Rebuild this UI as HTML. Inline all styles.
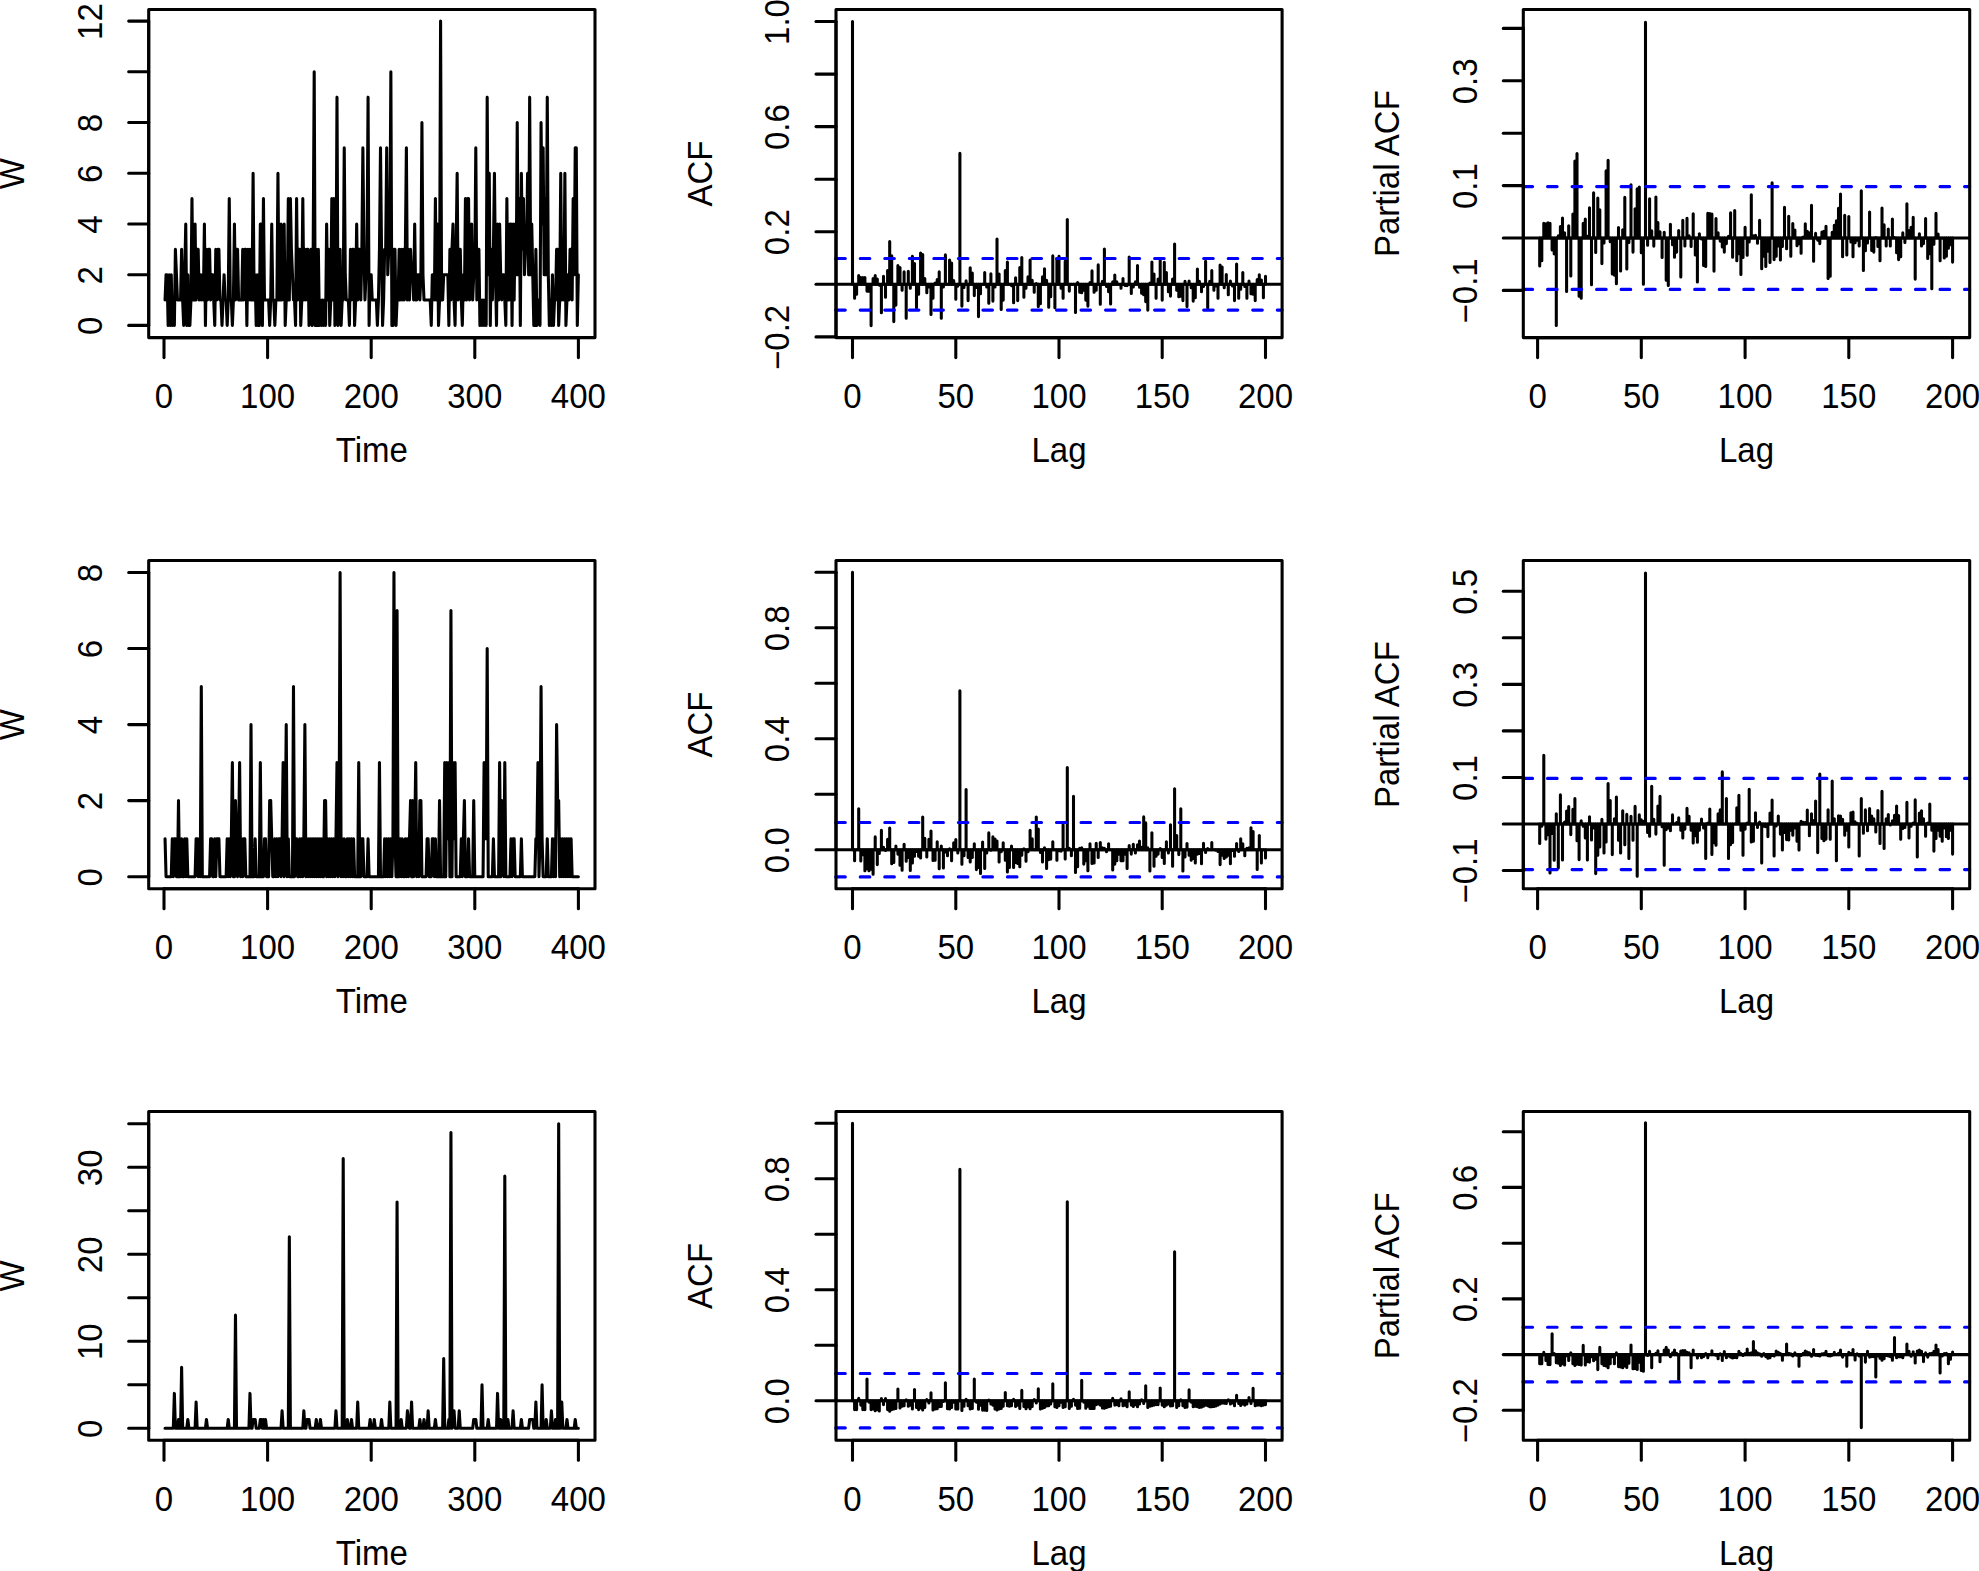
<!DOCTYPE html><html><head><meta charset="utf-8"><title>ACF plots</title><style>html,body{margin:0;padding:0;background:#fff}svg{display:block}</style></head><body><svg width="1979" height="1571" viewBox="0 0 1979 1571" font-family="&quot;Liberation Sans&quot;, sans-serif" font-size="33.0" fill="#000">
<rect width="1979" height="1571" fill="#fff"/>
<g stroke="#000" stroke-width="3.07" fill="none" stroke-linecap="round" stroke-linejoin="round">
<polyline points="165.04,300.04 166.07,274.68 167.11,274.68 168.14,325.40 169.18,274.68 170.22,325.40 171.25,274.68 172.29,325.40 173.32,300.04 174.36,325.40 175.39,249.32 176.43,274.68 177.47,300.04 178.50,300.04 179.54,300.04 180.57,300.04 181.61,249.32 182.65,300.04 183.68,325.40 184.72,274.68 185.75,223.96 186.79,325.40 187.83,274.68 188.86,325.40 189.90,325.40 190.93,300.04 191.97,198.60 193.00,300.04 194.04,300.04 195.08,223.96 196.11,300.04 197.15,249.32 198.18,249.32 199.22,300.04 200.26,274.68 201.29,300.04 202.33,274.68 203.36,300.04 204.40,223.96 205.44,325.40 206.47,249.32 207.51,300.04 208.54,249.32 209.58,249.32 210.61,300.04 211.65,274.68 212.69,274.68 213.72,300.04 214.76,325.40 215.79,249.32 216.83,300.04 217.87,249.32 218.90,249.32 219.94,300.04 220.97,300.04 222.01,325.40 223.04,300.04 224.08,274.68 225.12,300.04 226.15,300.04 227.19,325.40 228.22,300.04 229.26,198.60 230.30,300.04 231.33,300.04 232.37,325.40 233.40,300.04 234.44,223.96 235.48,300.04 236.51,249.32 237.55,249.32 238.58,300.04 239.62,300.04 240.65,300.04 241.69,300.04 242.73,249.32 243.76,300.04 244.80,249.32 245.83,249.32 246.87,325.40 247.91,249.32 248.94,300.04 249.98,249.32 251.01,300.04 252.05,300.04 253.09,173.24 254.12,300.04 255.16,274.68 256.19,325.40 257.23,274.68 258.26,325.40 259.30,325.40 260.34,223.96 261.37,223.96 262.41,325.40 263.44,198.60 264.48,300.04 265.52,300.04 266.55,300.04 267.59,300.04 268.62,300.04 269.66,325.40 270.70,300.04 271.73,223.96 272.77,300.04 273.80,300.04 274.84,325.40 275.87,300.04 276.91,300.04 277.95,173.24 278.98,300.04 280.02,300.04 281.05,223.96 282.09,300.04 283.13,274.68 284.16,223.96 285.20,325.40 286.23,300.04 287.27,300.04 288.31,198.60 289.34,300.04 290.38,198.60 291.41,249.32 292.45,274.68 293.48,300.04 294.52,300.04 295.56,325.40 296.59,198.60 297.63,300.04 298.66,249.32 299.70,249.32 300.74,325.40 301.77,300.04 302.81,198.60 303.84,300.04 304.88,249.32 305.91,300.04 306.95,249.32 307.99,249.32 309.02,325.40 310.06,274.68 311.09,249.32 312.13,325.40 313.17,249.32 314.20,71.80 315.24,325.40 316.27,249.32 317.31,325.40 318.35,249.32 319.38,325.40 320.42,300.04 321.45,325.40 322.49,300.04 323.52,325.40 324.56,300.04 325.60,325.40 326.63,223.96 327.67,300.04 328.70,249.32 329.74,325.40 330.78,300.04 331.81,198.60 332.85,300.04 333.88,198.60 334.92,325.40 335.96,300.04 336.99,97.16 338.03,325.40 339.06,300.04 340.10,249.32 341.13,325.40 342.17,300.04 343.21,300.04 344.24,147.88 345.28,274.68 346.31,300.04 347.35,300.04 348.39,300.04 349.42,325.40 350.46,249.32 351.49,300.04 352.53,249.32 353.57,249.32 354.60,325.40 355.64,300.04 356.67,223.96 357.71,300.04 358.74,249.32 359.78,249.32 360.82,300.04 361.85,249.32 362.89,147.88 363.92,249.32 364.96,300.04 366.00,274.68 367.03,249.32 368.07,97.16 369.10,325.40 370.14,274.68 371.18,274.68 372.21,300.04 373.25,300.04 374.28,300.04 375.32,300.04 376.35,300.04 377.39,325.40 378.43,300.04 379.46,249.32 380.50,147.88 381.53,249.32 382.57,325.40 383.61,300.04 384.64,249.32 385.68,249.32 386.71,147.88 387.75,274.68 388.78,249.32 389.82,249.32 390.86,71.80 391.89,325.40 392.93,325.40 393.96,249.32 395.00,249.32 396.04,325.40 397.07,300.04 398.11,300.04 399.14,249.32 400.18,300.04 401.22,249.32 402.25,300.04 403.29,249.32 404.32,300.04 405.36,249.32 406.39,147.88 407.43,300.04 408.47,249.32 409.50,300.04 410.54,249.32 411.57,274.68 412.61,274.68 413.65,300.04 414.68,223.96 415.72,300.04 416.75,300.04 417.79,274.68 418.83,274.68 419.86,300.04 420.90,274.68 421.93,122.52 422.97,274.68 424.00,300.04 425.04,300.04 426.08,300.04 427.11,300.04 428.15,300.04 429.18,300.04 430.22,300.04 431.26,325.40 432.29,274.68 433.33,274.68 434.36,300.04 435.40,198.60 436.44,300.04 437.47,223.96 438.51,325.40 439.54,300.04 440.58,21.08 441.61,300.04 442.65,300.04 443.69,274.68 444.72,274.68 445.76,274.68 446.79,274.68 447.83,274.68 448.87,325.40 449.90,249.32 450.94,300.04 451.97,249.32 453.01,223.96 454.05,300.04 455.08,325.40 456.12,249.32 457.15,173.24 458.19,300.04 459.22,249.32 460.26,249.32 461.30,300.04 462.33,325.40 463.37,274.68 464.40,300.04 465.44,198.60 466.48,300.04 467.51,198.60 468.55,198.60 469.58,300.04 470.62,274.68 471.65,223.96 472.69,300.04 473.73,274.68 474.76,274.68 475.80,147.88 476.83,300.04 477.87,249.32 478.91,249.32 479.94,325.40 480.98,300.04 482.01,325.40 483.05,300.04 484.09,325.40 485.12,300.04 486.16,325.40 487.19,97.16 488.23,274.68 489.26,173.24 490.30,325.40 491.34,249.32 492.37,300.04 493.41,249.32 494.44,173.24 495.48,274.68 496.52,325.40 497.55,223.96 498.59,300.04 499.62,223.96 500.66,274.68 501.70,300.04 502.73,274.68 503.77,274.68 504.80,300.04 505.84,325.40 506.87,198.60 507.91,300.04 508.95,300.04 509.98,223.96 511.02,223.96 512.05,325.40 513.09,223.96 514.13,300.04 515.16,223.96 516.20,274.68 517.23,122.52 518.27,274.68 519.31,198.60 520.34,325.40 521.38,173.24 522.41,249.32 523.45,198.60 524.48,274.68 525.52,249.32 526.56,249.32 527.59,173.24 528.63,274.68 529.66,97.16 530.70,274.68 531.74,223.96 532.77,274.68 533.81,325.40 534.84,325.40 535.88,249.32 536.91,325.40 537.95,300.04 538.99,300.04 540.02,325.40 541.06,122.52 542.09,223.96 543.13,147.88 544.17,274.68 545.20,198.60 546.24,274.68 547.27,97.16 548.31,274.68 549.35,325.40 550.38,300.04 551.42,325.40 552.45,274.68 553.49,325.40 554.52,300.04 555.56,300.04 556.60,249.32 557.63,249.32 558.67,325.40 559.70,300.04 560.74,173.24 561.78,300.04 562.81,274.68 563.85,300.04 564.88,173.24 565.92,325.40 566.96,300.04 567.99,274.68 569.03,300.04 570.06,249.32 571.10,249.32 572.13,300.04 573.17,198.60 574.21,274.68 575.24,147.88 576.28,147.88 577.31,325.40 578.35,274.68"/>
<rect x="148.7" y="9.5" width="446.3" height="328.1"/>
<line x1="164.0" y1="337.6" x2="578.4" y2="337.6" />
<line x1="164.0" y1="337.6" x2="164.0" y2="357.6" />
<line x1="267.6" y1="337.6" x2="267.6" y2="357.6" />
<line x1="371.2" y1="337.6" x2="371.2" y2="357.6" />
<line x1="474.8" y1="337.6" x2="474.8" y2="357.6" />
<line x1="578.4" y1="337.6" x2="578.4" y2="357.6" />
<line x1="148.7" y1="325.4" x2="148.7" y2="21.1" />
<line x1="128.7" y1="325.4" x2="148.7" y2="325.4" />
<line x1="128.7" y1="274.7" x2="148.7" y2="274.7" />
<line x1="128.7" y1="224.0" x2="148.7" y2="224.0" />
<line x1="128.7" y1="173.2" x2="148.7" y2="173.2" />
<line x1="128.7" y1="122.5" x2="148.7" y2="122.5" />
<line x1="128.7" y1="71.8" x2="148.7" y2="71.8" />
<line x1="128.7" y1="21.1" x2="148.7" y2="21.1" />
</g>
<text transform="translate(164.0,408.1) scale(1,1.045)" text-anchor="middle">0</text>
<text transform="translate(267.6,408.1) scale(1,1.045)" text-anchor="middle">100</text>
<text transform="translate(371.2,408.1) scale(1,1.045)" text-anchor="middle">200</text>
<text transform="translate(474.8,408.1) scale(1,1.045)" text-anchor="middle">300</text>
<text transform="translate(578.4,408.1) scale(1,1.045)" text-anchor="middle">400</text>
<text transform="translate(371.9,462.1) scale(1,1.045)" text-anchor="middle">Time</text>
<text transform="translate(101.9,325.9) rotate(-90) scale(1,1.045)" text-anchor="middle">0</text>
<text transform="translate(101.9,275.2) rotate(-90) scale(1,1.045)" text-anchor="middle">2</text>
<text transform="translate(101.9,224.5) rotate(-90) scale(1,1.045)" text-anchor="middle">4</text>
<text transform="translate(101.9,173.7) rotate(-90) scale(1,1.045)" text-anchor="middle">6</text>
<text transform="translate(101.9,123.0) rotate(-90) scale(1,1.045)" text-anchor="middle">8</text>
<text transform="translate(101.9,21.6) rotate(-90) scale(1,1.045)" text-anchor="middle">12</text>
<text transform="translate(24.2,173.6) rotate(-90) scale(1,1.045)" text-anchor="middle">W</text>
<g stroke="#000" stroke-width="3.07" fill="none" stroke-linecap="round" stroke-linejoin="round">
<path d="M852.5 284.3V21.5M854.6 284.3V298.2M856.6 284.3V294.3M858.7 284.3V275.6M860.8 284.3V277.5M862.8 284.3V277.5M864.9 284.3V277.5M867.0 284.3V291.1M869.0 284.3V291.1M871.1 284.3V325.6M873.1 284.3V278.5M875.2 284.3V275.6M877.3 284.3V279.0M879.3 284.3V285.1M881.4 284.3V312.7M883.5 284.3V276.4M885.5 284.3V297.2M887.6 284.3V270.6M889.7 284.3V241.5M891.7 284.3V255.7M893.8 284.3V321.6M895.9 284.3V305.1M897.9 284.3V265.6M900.0 284.3V267.5M902.1 284.3V290.3M904.1 284.3V271.9M906.2 284.3V318.2M908.3 284.3V271.4M910.3 284.3V288.2M912.4 284.3V256.2M914.5 284.3V263.5M916.5 284.3V307.7M918.6 284.3V294.3M920.6 284.3V253.0M922.7 284.3V254.6M924.8 284.3V278.5M926.8 284.3V292.7M928.9 284.3V286.9M931.0 284.3V314.5M933.0 284.3V298.2M935.1 284.3V283.0M937.2 284.3V279.6M939.2 284.3V271.9M941.3 284.3V318.2M943.4 284.3V286.9M945.4 284.3V254.9M947.5 284.3V284.3M949.6 284.3V260.1M951.6 284.3V263.0M953.7 284.3V280.6M955.8 284.3V299.3M957.8 284.3V286.1M959.9 284.3V153.2M961.9 284.3V306.1M964.0 284.3V287.5M966.1 284.3V280.9M968.1 284.3V300.6M970.2 284.3V267.7M972.3 284.3V273.0M974.3 284.3V295.6M976.4 284.3V287.5M978.5 284.3V316.6M980.5 284.3V293.8M982.6 284.3V284.3M984.7 284.3V272.5M986.7 284.3V286.9M988.8 284.3V303.2M990.9 284.3V273.8M992.9 284.3V301.1M995.0 284.3V286.9M997.0 284.3V239.1M999.1 284.3V274.1M1001.2 284.3V309.5M1003.2 284.3V300.1M1005.3 284.3V270.6M1007.4 284.3V262.0M1009.4 284.3V284.3M1011.5 284.3V285.6M1013.6 284.3V302.7M1015.6 284.3V277.7M1017.7 284.3V300.6M1019.8 284.3V267.5M1021.8 284.3V257.5M1023.9 284.3V297.2M1026.0 284.3V288.2M1028.0 284.3V276.9M1030.1 284.3V260.1M1032.2 284.3V280.4M1034.2 284.3V292.2M1036.3 284.3V283.5M1038.3 284.3V306.6M1040.4 284.3V303.7M1042.5 284.3V276.9M1044.5 284.3V268.8M1046.6 284.3V280.4M1048.7 284.3V307.2M1050.7 284.3V296.7M1052.8 284.3V255.9M1054.9 284.3V307.7M1056.9 284.3V259.6M1059.0 284.3V256.2M1061.1 284.3V288.2M1063.1 284.3V298.2M1065.2 284.3V261.2M1067.3 284.3V219.5M1069.3 284.3V291.1M1071.4 284.3V284.3M1073.5 284.3V284.3M1075.5 284.3V312.4M1077.6 284.3V282.5M1079.7 284.3V292.2M1081.7 284.3V292.7M1083.8 284.3V290.3M1085.8 284.3V300.1M1087.9 284.3V306.1M1090.0 284.3V282.5M1092.0 284.3V270.9M1094.1 284.3V292.2M1096.2 284.3V290.3M1098.2 284.3V264.9M1100.3 284.3V304.3M1102.4 284.3V281.4M1104.4 284.3V249.1M1106.5 284.3V286.4M1108.6 284.3V291.7M1110.6 284.3V304.0M1112.7 284.3V281.9M1114.8 284.3V275.1M1116.8 284.3V281.9M1118.9 284.3V284.3M1121.0 284.3V288.2M1123.0 284.3V278.5M1125.1 284.3V285.4M1127.1 284.3V285.6M1129.2 284.3V257.0M1131.3 284.3V293.5M1133.3 284.3V286.9M1135.4 284.3V281.9M1137.5 284.3V265.6M1139.5 284.3V287.2M1141.6 284.3V293.2M1143.7 284.3V294.8M1145.7 284.3V301.6M1147.8 284.3V310.1M1149.9 284.3V283.0M1151.9 284.3V262.0M1154.0 284.3V274.1M1156.1 284.3V298.2M1158.1 284.3V279.0M1160.2 284.3V260.6M1162.2 284.3V300.1M1164.3 284.3V262.2M1166.4 284.3V272.5M1168.4 284.3V291.7M1170.5 284.3V296.1M1172.6 284.3V279.0M1174.6 284.3V244.1M1176.7 284.3V290.3M1178.8 284.3V296.7M1180.8 284.3V296.1M1182.9 284.3V300.6M1185.0 284.3V281.4M1187.0 284.3V306.6M1189.1 284.3V281.1M1191.2 284.3V287.7M1193.2 284.3V301.1M1195.3 284.3V297.7M1197.4 284.3V269.1M1199.4 284.3V281.4M1201.5 284.3V291.7M1203.5 284.3V286.4M1205.6 284.3V261.2M1207.7 284.3V307.7M1209.7 284.3V281.4M1211.8 284.3V270.6M1213.9 284.3V290.3M1215.9 284.3V285.9M1218.0 284.3V298.2M1220.1 284.3V265.1M1222.1 284.3V267.0M1224.2 284.3V287.7M1226.3 284.3V274.6M1228.3 284.3V294.8M1230.4 284.3V281.1M1232.5 284.3V285.9M1234.5 284.3V300.6M1236.6 284.3V264.1M1238.7 284.3V298.2M1240.7 284.3V289.3M1242.8 284.3V272.5M1244.8 284.3V286.4M1246.9 284.3V298.2M1249.0 284.3V281.1M1251.0 284.3V293.8M1253.1 284.3V294.3M1255.2 284.3V300.6M1257.2 284.3V279.6M1259.3 284.3V274.8M1261.4 284.3V280.1M1263.4 284.3V297.7M1265.5 284.3V276.4"/>
<line x1="836.0" y1="284.3" x2="1282.1" y2="284.3" stroke-linecap="butt"/>
<line x1="835.7" y1="258.5" x2="1282.1" y2="258.5" stroke="#0000ff" stroke-dasharray="9.6 14.93" stroke-linecap="round"/>
<line x1="835.7" y1="310.1" x2="1282.1" y2="310.1" stroke="#0000ff" stroke-dasharray="9.6 14.93" stroke-linecap="round"/>
<rect x="836.0" y="9.5" width="446.1" height="328.1"/>
<line x1="852.5" y1="337.6" x2="1265.5" y2="337.6" />
<line x1="852.5" y1="337.6" x2="852.5" y2="357.6" />
<line x1="955.8" y1="337.6" x2="955.8" y2="357.6" />
<line x1="1059.0" y1="337.6" x2="1059.0" y2="357.6" />
<line x1="1162.2" y1="337.6" x2="1162.2" y2="357.6" />
<line x1="1265.5" y1="337.6" x2="1265.5" y2="357.6" />
<line x1="836.0" y1="336.9" x2="836.0" y2="21.5" />
<line x1="816.0" y1="336.9" x2="836.0" y2="336.9" />
<line x1="816.0" y1="284.3" x2="836.0" y2="284.3" />
<line x1="816.0" y1="231.7" x2="836.0" y2="231.7" />
<line x1="816.0" y1="179.2" x2="836.0" y2="179.2" />
<line x1="816.0" y1="126.6" x2="836.0" y2="126.6" />
<line x1="816.0" y1="74.1" x2="836.0" y2="74.1" />
<line x1="816.0" y1="21.5" x2="836.0" y2="21.5" />
</g>
<text transform="translate(852.5,408.1) scale(1,1.045)" text-anchor="middle">0</text>
<text transform="translate(955.8,408.1) scale(1,1.045)" text-anchor="middle">50</text>
<text transform="translate(1059.0,408.1) scale(1,1.045)" text-anchor="middle">100</text>
<text transform="translate(1162.2,408.1) scale(1,1.045)" text-anchor="middle">150</text>
<text transform="translate(1265.5,408.1) scale(1,1.045)" text-anchor="middle">200</text>
<text transform="translate(1059.0,462.1) scale(1,1.045)" text-anchor="middle">Lag</text>
<text transform="translate(789.2,337.4) rotate(-90) scale(1,1.045)" text-anchor="middle">−0.2</text>
<text transform="translate(789.2,232.2) rotate(-90) scale(1,1.045)" text-anchor="middle">0.2</text>
<text transform="translate(789.2,127.1) rotate(-90) scale(1,1.045)" text-anchor="middle">0.6</text>
<text transform="translate(789.2,22.0) rotate(-90) scale(1,1.045)" text-anchor="middle">1.0</text>
<text transform="translate(711.5,173.6) rotate(-90) scale(1,1.045)" text-anchor="middle">ACF</text>
<g stroke="#000" stroke-width="3.07" fill="none" stroke-linecap="round" stroke-linejoin="round">
<path d="M1539.7 238.0V265.9M1541.8 238.0V260.7M1543.8 238.0V223.2M1545.9 238.0V223.9M1548.0 238.0V222.8M1550.0 238.0V223.3M1552.1 238.0V249.9M1554.2 238.0V253.9M1556.3 238.0V325.5M1558.3 238.0V235.9M1560.4 238.0V226.6M1562.5 238.0V218.1M1564.6 238.0V232.8M1566.6 238.0V291.4M1568.7 238.0V225.8M1570.8 238.0V275.9M1572.9 238.0V214.0M1574.9 238.0V161.0M1577.0 238.0V153.6M1579.1 238.0V296.2M1581.2 238.0V298.3M1583.2 238.0V223.2M1585.3 238.0V219.1M1587.4 238.0V236.4M1589.5 238.0V207.7M1591.5 238.0V284.8M1593.6 238.0V192.8M1595.7 238.0V252.5M1597.8 238.0V198.0M1599.8 238.0V209.7M1601.9 238.0V263.6M1604.0 238.0V243.0M1606.1 238.0V170.9M1608.1 238.0V160.4M1610.2 238.0V241.7M1612.3 238.0V273.9M1614.4 238.0V275.1M1616.4 238.0V283.7M1618.5 238.0V227.5M1620.6 238.0V270.9M1622.7 238.0V229.7M1624.8 238.0V197.4M1626.8 238.0V269.0M1628.9 238.0V242.5M1631.0 238.0V184.8M1633.0 238.0V252.1M1635.1 238.0V208.8M1637.2 238.0V188.8M1639.3 238.0V187.1M1641.3 238.0V252.7M1643.4 238.0V284.3M1645.5 238.0V22.2M1647.6 238.0V245.3M1649.6 238.0V198.8M1651.7 238.0V230.8M1653.8 238.0V246.1M1655.9 238.0V197.1M1657.9 238.0V222.6M1660.0 238.0V231.7M1662.1 238.0V257.5M1664.2 238.0V232.3M1666.2 238.0V280.2M1668.3 238.0V285.4M1670.4 238.0V224.3M1672.5 238.0V244.7M1674.5 238.0V257.3M1676.6 238.0V252.1M1678.7 238.0V230.6M1680.8 238.0V277.0M1682.8 238.0V220.3M1684.9 238.0V245.9M1687.0 238.0V218.3M1689.1 238.0V235.9M1691.1 238.0V246.4M1693.2 238.0V213.7M1695.3 238.0V255.0M1697.4 238.0V282.0M1699.4 238.0V233.8M1701.5 238.0V239.0M1703.6 238.0V265.4M1705.7 238.0V266.5M1707.8 238.0V213.2M1709.8 238.0V213.6M1711.9 238.0V214.0M1714.0 238.0V271.1M1716.0 238.0V218.6M1718.1 238.0V232.8M1720.2 238.0V241.1M1722.3 238.0V246.9M1724.3 238.0V252.1M1726.4 238.0V243.6M1728.5 238.0V236.4M1730.6 238.0V212.8M1732.6 238.0V257.3M1734.7 238.0V210.5M1736.8 238.0V260.7M1738.9 238.0V253.7M1740.9 238.0V274.5M1743.0 238.0V257.4M1745.1 238.0V227.2M1747.2 238.0V255.2M1749.2 238.0V241.9M1751.3 238.0V194.8M1753.4 238.0V235.9M1755.5 238.0V235.4M1757.5 238.0V243.2M1759.6 238.0V220.3M1761.7 238.0V268.8M1763.8 238.0V256.3M1765.8 238.0V266.5M1767.9 238.0V251.1M1770.0 238.0V262.5M1772.1 238.0V182.7M1774.1 238.0V259.6M1776.2 238.0V256.2M1778.3 238.0V245.9M1780.4 238.0V259.9M1782.4 238.0V246.4M1784.5 238.0V207.3M1786.6 238.0V248.7M1788.7 238.0V216.3M1790.8 238.0V256.2M1792.8 238.0V223.5M1794.9 238.0V230.0M1797.0 238.0V245.7M1799.0 238.0V243.6M1801.1 238.0V253.3M1803.2 238.0V237.0M1805.3 238.0V223.7M1807.3 238.0V231.2M1809.4 238.0V232.9M1811.5 238.0V205.4M1813.6 238.0V261.3M1815.6 238.0V233.4M1817.7 238.0V240.1M1819.8 238.0V243.6M1821.9 238.0V232.0M1823.9 238.0V231.2M1826.0 238.0V226.3M1828.1 238.0V278.5M1830.2 238.0V276.3M1832.2 238.0V232.3M1834.3 238.0V225.4M1836.4 238.0V220.9M1838.5 238.0V208.2M1840.5 238.0V194.1M1842.6 238.0V256.8M1844.7 238.0V215.2M1846.8 238.0V255.0M1848.8 238.0V216.6M1850.9 238.0V241.9M1853.0 238.0V256.8M1855.1 238.0V242.7M1857.1 238.0V240.1M1859.2 238.0V245.9M1861.3 238.0V190.8M1863.4 238.0V270.5M1865.4 238.0V250.7M1867.5 238.0V243.0M1869.6 238.0V212.0M1871.7 238.0V250.4M1873.8 238.0V252.1M1875.8 238.0V237.5M1877.9 238.0V246.4M1880.0 238.0V260.7M1882.0 238.0V208.0M1884.1 238.0V224.9M1886.2 238.0V245.9M1888.3 238.0V229.1M1890.3 238.0V245.9M1892.4 238.0V219.1M1894.5 238.0V237.5M1896.6 238.0V252.7M1898.6 238.0V259.6M1900.7 238.0V256.8M1902.8 238.0V232.9M1904.9 238.0V242.5M1906.9 238.0V203.7M1909.0 238.0V230.6M1911.1 238.0V227.2M1913.2 238.0V217.4M1915.2 238.0V279.1M1917.3 238.0V238.0M1919.4 238.0V233.8M1921.5 238.0V245.9M1923.5 238.0V243.6M1925.6 238.0V218.6M1927.7 238.0V258.4M1929.8 238.0V253.7M1931.8 238.0V288.8M1933.9 238.0V244.2M1936.0 238.0V213.4M1938.1 238.0V234.1M1940.1 238.0V260.7M1942.2 238.0V238.0M1944.3 238.0V257.9M1946.4 238.0V256.2M1948.4 238.0V248.2M1950.5 238.0V244.8M1952.6 238.0V262.1"/>
<line x1="1523.3" y1="238.0" x2="1969.7" y2="238.0" stroke-linecap="butt"/>
<line x1="1523.0" y1="186.6" x2="1969.7" y2="186.6" stroke="#0000ff" stroke-dasharray="9.6 14.93" stroke-linecap="round"/>
<line x1="1523.0" y1="289.4" x2="1969.7" y2="289.4" stroke="#0000ff" stroke-dasharray="9.6 14.93" stroke-linecap="round"/>
<rect x="1523.3" y="9.5" width="446.4" height="328.1"/>
<line x1="1537.6" y1="337.6" x2="1952.6" y2="337.6" />
<line x1="1537.6" y1="337.6" x2="1537.6" y2="357.6" />
<line x1="1641.3" y1="337.6" x2="1641.3" y2="357.6" />
<line x1="1745.1" y1="337.6" x2="1745.1" y2="357.6" />
<line x1="1848.8" y1="337.6" x2="1848.8" y2="357.6" />
<line x1="1952.6" y1="337.6" x2="1952.6" y2="357.6" />
<line x1="1523.3" y1="290.4" x2="1523.3" y2="28.4" />
<line x1="1503.3" y1="290.4" x2="1523.3" y2="290.4" />
<line x1="1503.3" y1="238.0" x2="1523.3" y2="238.0" />
<line x1="1503.3" y1="185.6" x2="1523.3" y2="185.6" />
<line x1="1503.3" y1="133.2" x2="1523.3" y2="133.2" />
<line x1="1503.3" y1="80.8" x2="1523.3" y2="80.8" />
<line x1="1503.3" y1="28.4" x2="1523.3" y2="28.4" />
</g>
<text transform="translate(1537.6,408.1) scale(1,1.045)" text-anchor="middle">0</text>
<text transform="translate(1641.3,408.1) scale(1,1.045)" text-anchor="middle">50</text>
<text transform="translate(1745.1,408.1) scale(1,1.045)" text-anchor="middle">100</text>
<text transform="translate(1848.8,408.1) scale(1,1.045)" text-anchor="middle">150</text>
<text transform="translate(1952.6,408.1) scale(1,1.045)" text-anchor="middle">200</text>
<text transform="translate(1746.5,462.1) scale(1,1.045)" text-anchor="middle">Lag</text>
<text transform="translate(1476.5,290.9) rotate(-90) scale(1,1.045)" text-anchor="middle">−0.1</text>
<text transform="translate(1476.5,186.1) rotate(-90) scale(1,1.045)" text-anchor="middle">0.1</text>
<text transform="translate(1476.5,81.3) rotate(-90) scale(1,1.045)" text-anchor="middle">0.3</text>
<text transform="translate(1398.8,173.6) rotate(-90) scale(1,1.045)" text-anchor="middle">Partial ACF</text>
<g stroke="#000" stroke-width="3.07" fill="none" stroke-linecap="round" stroke-linejoin="round">
<polyline points="165.04,838.67 166.07,876.70 167.11,876.70 168.14,876.70 169.18,876.70 170.22,876.70 171.25,876.70 172.29,838.67 173.32,876.70 174.36,838.67 175.39,838.67 176.43,876.70 177.47,876.70 178.50,800.64 179.54,876.70 180.57,876.70 181.61,838.67 182.65,876.70 183.68,876.70 184.72,838.67 185.75,876.70 186.79,838.67 187.83,876.70 188.86,876.70 189.90,876.70 190.93,876.70 191.97,876.70 193.00,876.70 194.04,876.70 195.08,876.70 196.11,838.67 197.15,838.67 198.18,876.70 199.22,838.67 200.26,876.70 201.29,686.55 202.33,876.70 203.36,876.70 204.40,876.70 205.44,876.70 206.47,876.70 207.51,876.70 208.54,876.70 209.58,876.70 210.61,838.67 211.65,838.67 212.69,876.70 213.72,876.70 214.76,838.67 215.79,876.70 216.83,838.67 217.87,838.67 218.90,838.67 219.94,876.70 220.97,876.70 222.01,876.70 223.04,876.70 224.08,876.70 225.12,876.70 226.15,876.70 227.19,838.67 228.22,876.70 229.26,838.67 230.30,876.70 231.33,838.67 232.37,762.61 233.40,876.70 234.44,876.70 235.48,800.64 236.51,838.67 237.55,876.70 238.58,838.67 239.62,762.61 240.65,876.70 241.69,838.67 242.73,876.70 243.76,838.67 244.80,838.67 245.83,876.70 246.87,876.70 247.91,876.70 248.94,876.70 249.98,876.70 251.01,724.58 252.05,876.70 253.09,876.70 254.12,876.70 255.16,838.67 256.19,876.70 257.23,876.70 258.26,876.70 259.30,876.70 260.34,762.61 261.37,876.70 262.41,876.70 263.44,876.70 264.48,838.67 265.52,838.67 266.55,876.70 267.59,876.70 268.62,876.70 269.66,800.64 270.70,800.64 271.73,838.67 272.77,876.70 273.80,876.70 274.84,838.67 275.87,876.70 276.91,838.67 277.95,876.70 278.98,838.67 280.02,838.67 281.05,876.70 282.09,838.67 283.13,762.61 284.16,876.70 285.20,838.67 286.23,724.58 287.27,876.70 288.31,838.67 289.34,876.70 290.38,876.70 291.41,876.70 292.45,876.70 293.48,686.55 294.52,876.70 295.56,838.67 296.59,838.67 297.63,876.70 298.66,876.70 299.70,838.67 300.74,876.70 301.77,838.67 302.81,876.70 303.84,838.67 304.88,724.58 305.91,876.70 306.95,838.67 307.99,876.70 309.02,838.67 310.06,876.70 311.09,838.67 312.13,876.70 313.17,838.67 314.20,876.70 315.24,838.67 316.27,876.70 317.31,838.67 318.35,876.70 319.38,838.67 320.42,876.70 321.45,838.67 322.49,876.70 323.52,876.70 324.56,800.64 325.60,800.64 326.63,876.70 327.67,838.67 328.70,876.70 329.74,838.67 330.78,876.70 331.81,838.67 332.85,876.70 333.88,838.67 334.92,876.70 335.96,838.67 336.99,762.61 338.03,876.70 339.06,838.67 340.10,572.46 341.13,876.70 342.17,838.67 343.21,876.70 344.24,838.67 345.28,876.70 346.31,876.70 347.35,838.67 348.39,876.70 349.42,838.67 350.46,876.70 351.49,838.67 352.53,876.70 353.57,838.67 354.60,876.70 355.64,876.70 356.67,876.70 357.71,876.70 358.74,762.61 359.78,876.70 360.82,876.70 361.85,838.67 362.89,838.67 363.92,876.70 364.96,876.70 366.00,876.70 367.03,876.70 368.07,838.67 369.10,876.70 370.14,876.70 371.18,876.70 372.21,876.70 373.25,876.70 374.28,876.70 375.32,876.70 376.35,876.70 377.39,876.70 378.43,876.70 379.46,762.61 380.50,876.70 381.53,876.70 382.57,876.70 383.61,876.70 384.64,838.67 385.68,876.70 386.71,838.67 387.75,876.70 388.78,838.67 389.82,876.70 390.86,838.67 391.89,876.70 392.93,838.67 393.96,572.46 395.00,838.67 396.04,876.70 397.07,610.49 398.11,876.70 399.14,876.70 400.18,838.67 401.22,876.70 402.25,838.67 403.29,876.70 404.32,876.70 405.36,838.67 406.39,876.70 407.43,838.67 408.47,876.70 409.50,838.67 410.54,800.64 411.57,876.70 412.61,800.64 413.65,876.70 414.68,838.67 415.72,762.61 416.75,876.70 417.79,838.67 418.83,876.70 419.86,800.64 420.90,800.64 421.93,876.70 422.97,876.70 424.00,876.70 425.04,876.70 426.08,876.70 427.11,838.67 428.15,838.67 429.18,876.70 430.22,876.70 431.26,876.70 432.29,838.67 433.33,838.67 434.36,876.70 435.40,838.67 436.44,876.70 437.47,876.70 438.51,876.70 439.54,800.64 440.58,876.70 441.61,876.70 442.65,876.70 443.69,876.70 444.72,762.61 445.76,876.70 446.79,762.61 447.83,838.67 448.87,762.61 449.90,876.70 450.94,610.49 451.97,876.70 453.01,762.61 454.05,838.67 455.08,762.61 456.12,876.70 457.15,876.70 458.19,876.70 459.22,876.70 460.26,876.70 461.30,838.67 462.33,876.70 463.37,838.67 464.40,800.64 465.44,876.70 466.48,876.70 467.51,876.70 468.55,838.67 469.58,876.70 470.62,876.70 471.65,876.70 472.69,876.70 473.73,800.64 474.76,876.70 475.80,876.70 476.83,876.70 477.87,876.70 478.91,876.70 479.94,876.70 480.98,876.70 482.01,876.70 483.05,876.70 484.09,762.61 485.12,838.67 486.16,838.67 487.19,648.52 488.23,876.70 489.26,876.70 490.30,876.70 491.34,876.70 492.37,876.70 493.41,838.67 494.44,876.70 495.48,876.70 496.52,876.70 497.55,876.70 498.59,876.70 499.62,762.61 500.66,876.70 501.70,800.64 502.73,838.67 503.77,876.70 504.80,762.61 505.84,876.70 506.87,876.70 507.91,876.70 508.95,876.70 509.98,876.70 511.02,838.67 512.05,876.70 513.09,838.67 514.13,838.67 515.16,876.70 516.20,876.70 517.23,876.70 518.27,876.70 519.31,876.70 520.34,876.70 521.38,838.67 522.41,876.70 523.45,876.70 524.48,876.70 525.52,876.70 526.56,876.70 527.59,876.70 528.63,876.70 529.66,876.70 530.70,876.70 531.74,876.70 532.77,876.70 533.81,876.70 534.84,876.70 535.88,838.67 536.91,838.67 537.95,762.61 538.99,876.70 540.02,838.67 541.06,686.55 542.09,838.67 543.13,876.70 544.17,876.70 545.20,876.70 546.24,876.70 547.27,838.67 548.31,876.70 549.35,876.70 550.38,876.70 551.42,876.70 552.45,838.67 553.49,876.70 554.52,838.67 555.56,876.70 556.60,724.58 557.63,800.64 558.67,800.64 559.70,876.70 560.74,838.67 561.78,876.70 562.81,838.67 563.85,876.70 564.88,838.67 565.92,876.70 566.96,838.67 567.99,876.70 569.03,838.67 570.06,876.70 571.10,838.67 572.13,876.70 573.17,876.70 574.21,876.70 575.24,876.70 576.28,876.70 577.31,876.70 578.35,876.70"/>
<rect x="148.7" y="560.5" width="446.3" height="328.2"/>
<line x1="164.0" y1="888.7" x2="578.4" y2="888.7" />
<line x1="164.0" y1="888.7" x2="164.0" y2="908.7" />
<line x1="267.6" y1="888.7" x2="267.6" y2="908.7" />
<line x1="371.2" y1="888.7" x2="371.2" y2="908.7" />
<line x1="474.8" y1="888.7" x2="474.8" y2="908.7" />
<line x1="578.4" y1="888.7" x2="578.4" y2="908.7" />
<line x1="148.7" y1="876.7" x2="148.7" y2="572.5" />
<line x1="128.7" y1="876.7" x2="148.7" y2="876.7" />
<line x1="128.7" y1="800.6" x2="148.7" y2="800.6" />
<line x1="128.7" y1="724.6" x2="148.7" y2="724.6" />
<line x1="128.7" y1="648.5" x2="148.7" y2="648.5" />
<line x1="128.7" y1="572.5" x2="148.7" y2="572.5" />
</g>
<text transform="translate(164.0,959.2) scale(1,1.045)" text-anchor="middle">0</text>
<text transform="translate(267.6,959.2) scale(1,1.045)" text-anchor="middle">100</text>
<text transform="translate(371.2,959.2) scale(1,1.045)" text-anchor="middle">200</text>
<text transform="translate(474.8,959.2) scale(1,1.045)" text-anchor="middle">300</text>
<text transform="translate(578.4,959.2) scale(1,1.045)" text-anchor="middle">400</text>
<text transform="translate(371.9,1013.2) scale(1,1.045)" text-anchor="middle">Time</text>
<text transform="translate(101.9,877.2) rotate(-90) scale(1,1.045)" text-anchor="middle">0</text>
<text transform="translate(101.9,801.1) rotate(-90) scale(1,1.045)" text-anchor="middle">2</text>
<text transform="translate(101.9,725.1) rotate(-90) scale(1,1.045)" text-anchor="middle">4</text>
<text transform="translate(101.9,649.0) rotate(-90) scale(1,1.045)" text-anchor="middle">6</text>
<text transform="translate(101.9,573.0) rotate(-90) scale(1,1.045)" text-anchor="middle">8</text>
<text transform="translate(24.2,724.6) rotate(-90) scale(1,1.045)" text-anchor="middle">W</text>
<g stroke="#000" stroke-width="3.07" fill="none" stroke-linecap="round" stroke-linejoin="round">
<path d="M852.5 849.7V572.3M854.6 849.7V860.8M856.6 849.7V849.7M858.7 849.7V808.8M860.8 849.7V861.0M862.8 849.7V854.7M864.9 849.7V870.8M867.0 849.7V868.6M869.0 849.7V870.8M871.1 849.7V869.1M873.1 849.7V874.3M875.2 849.7V836.9M877.3 849.7V864.6M879.3 849.7V853.5M881.4 849.7V830.3M883.5 849.7V847.2M885.5 849.7V850.5M887.6 849.7V839.4M889.7 849.7V828.0M891.7 849.7V863.8M893.8 849.7V862.4M895.9 849.7V846.0M897.9 849.7V854.1M900.0 849.7V865.2M902.1 849.7V870.2M904.1 849.7V844.3M906.2 849.7V861.3M908.3 849.7V857.4M910.3 849.7V870.5M912.4 849.7V863.0M914.5 849.7V856.3M916.5 849.7V851.4M918.6 849.7V856.3M920.6 849.7V858.0M922.7 849.7V817.1M924.8 849.7V838.2M926.8 849.7V856.9M928.9 849.7V839.4M931.0 849.7V831.0M933.0 849.7V860.5M935.1 849.7V860.2M937.2 849.7V841.8M939.2 849.7V868.8M941.3 849.7V846.0M943.4 849.7V868.0M945.4 849.7V851.9M947.5 849.7V855.7M949.6 849.7V848.9M951.6 849.7V860.8M953.7 849.7V842.7M955.8 849.7V839.6M957.8 849.7V852.9M959.9 849.7V690.7M961.9 849.7V864.3M964.0 849.7V855.7M966.1 849.7V789.6M968.1 849.7V857.4M970.2 849.7V861.9M972.3 849.7V857.4M974.3 849.7V843.8M976.4 849.7V869.6M978.5 849.7V867.4M980.5 849.7V873.5M982.6 849.7V842.1M984.7 849.7V868.5M986.7 849.7V852.9M988.8 849.7V832.9M990.9 849.7V850.3M992.9 849.7V836.9M995.0 849.7V839.1M997.0 849.7V841.0M999.1 849.7V861.9M1001.2 849.7V851.8M1003.2 849.7V842.7M1005.3 849.7V860.2M1007.4 849.7V871.9M1009.4 849.7V867.4M1011.5 849.7V846.0M1013.6 849.7V867.4M1015.6 849.7V862.4M1017.7 849.7V863.5M1019.8 849.7V866.8M1021.8 849.7V855.2M1023.9 849.7V848.9M1026.0 849.7V861.3M1028.0 849.7V851.8M1030.1 849.7V830.2M1032.2 849.7V838.8M1034.2 849.7V849.7M1036.3 849.7V817.1M1038.3 849.7V829.1M1040.4 849.7V852.4M1042.5 849.7V861.9M1044.5 849.7V847.8M1046.6 849.7V868.5M1048.7 849.7V859.6M1050.7 849.7V859.1M1052.8 849.7V841.8M1054.9 849.7V849.7M1056.9 849.7V860.2M1059.0 849.7V850.8M1061.1 849.7V851.1M1063.1 849.7V824.7M1065.2 849.7V858.9M1067.3 849.7V767.6M1069.3 849.7V848.3M1071.4 849.7V855.7M1073.5 849.7V796.4M1075.5 849.7V872.4M1077.6 849.7V866.8M1079.7 849.7V848.3M1081.7 849.7V847.8M1083.8 849.7V864.1M1085.8 849.7V860.8M1087.9 849.7V870.8M1090.0 849.7V843.8M1092.0 849.7V863.5M1094.1 849.7V863.0M1096.2 849.7V843.2M1098.2 849.7V857.4M1100.3 849.7V842.5M1102.4 849.7V847.8M1104.4 849.7V848.3M1106.5 849.7V851.8M1108.6 849.7V843.8M1110.6 849.7V849.7M1112.7 849.7V869.9M1114.8 849.7V864.1M1116.8 849.7V860.8M1118.9 849.7V854.1M1121.0 849.7V860.8M1123.0 849.7V860.8M1125.1 849.7V854.1M1127.1 849.7V868.5M1129.2 849.7V845.5M1131.3 849.7V854.1M1133.3 849.7V844.3M1135.4 849.7V852.9M1137.5 849.7V844.9M1139.5 849.7V841.0M1141.6 849.7V847.2M1143.7 849.7V816.9M1145.7 849.7V822.9M1147.8 849.7V847.8M1149.9 849.7V871.0M1151.9 849.7V832.7M1154.0 849.7V866.3M1156.1 849.7V856.3M1158.1 849.7V854.1M1160.2 849.7V848.6M1162.2 849.7V857.4M1164.3 849.7V863.5M1166.4 849.7V841.8M1168.4 849.7V852.9M1170.5 849.7V824.7M1172.6 849.7V866.3M1174.6 849.7V788.8M1176.7 849.7V835.5M1178.8 849.7V854.6M1180.8 849.7V808.8M1182.9 849.7V871.0M1185.0 849.7V856.9M1187.0 849.7V843.6M1189.1 849.7V855.2M1191.2 849.7V860.2M1193.2 849.7V858.5M1195.3 849.7V863.0M1197.4 849.7V854.1M1199.4 849.7V853.5M1201.5 849.7V863.8M1203.5 849.7V843.2M1205.6 849.7V852.4M1207.7 849.7V848.6M1209.7 849.7V849.7M1211.8 849.7V842.5M1213.9 849.7V849.7M1215.9 849.7V850.3M1218.0 849.7V851.4M1220.1 849.7V864.6M1222.1 849.7V855.2M1224.2 849.7V858.5M1226.3 849.7V856.9M1228.3 849.7V855.2M1230.4 849.7V863.8M1232.5 849.7V850.5M1234.5 849.7V856.3M1236.6 849.7V843.6M1238.7 849.7V851.4M1240.7 849.7V838.8M1242.8 849.7V843.8M1244.8 849.7V855.7M1246.9 849.7V848.3M1249.0 849.7V847.8M1251.0 849.7V827.7M1253.1 849.7V831.6M1255.2 849.7V849.7M1257.2 849.7V869.4M1259.3 849.7V835.5M1261.4 849.7V863.0M1263.4 849.7V849.7M1265.5 849.7V858.0"/>
<line x1="836.0" y1="849.7" x2="1282.1" y2="849.7" stroke-linecap="butt"/>
<line x1="835.7" y1="822.5" x2="1282.1" y2="822.5" stroke="#0000ff" stroke-dasharray="9.6 14.93" stroke-linecap="round"/>
<line x1="835.7" y1="876.9" x2="1282.1" y2="876.9" stroke="#0000ff" stroke-dasharray="9.6 14.93" stroke-linecap="round"/>
<rect x="836.0" y="560.5" width="446.1" height="328.2"/>
<line x1="852.5" y1="888.7" x2="1265.5" y2="888.7" />
<line x1="852.5" y1="888.7" x2="852.5" y2="908.7" />
<line x1="955.8" y1="888.7" x2="955.8" y2="908.7" />
<line x1="1059.0" y1="888.7" x2="1059.0" y2="908.7" />
<line x1="1162.2" y1="888.7" x2="1162.2" y2="908.7" />
<line x1="1265.5" y1="888.7" x2="1265.5" y2="908.7" />
<line x1="836.0" y1="849.7" x2="836.0" y2="572.3" />
<line x1="816.0" y1="849.7" x2="836.0" y2="849.7" />
<line x1="816.0" y1="794.2" x2="836.0" y2="794.2" />
<line x1="816.0" y1="738.7" x2="836.0" y2="738.7" />
<line x1="816.0" y1="683.3" x2="836.0" y2="683.3" />
<line x1="816.0" y1="627.8" x2="836.0" y2="627.8" />
<line x1="816.0" y1="572.3" x2="836.0" y2="572.3" />
</g>
<text transform="translate(852.5,959.2) scale(1,1.045)" text-anchor="middle">0</text>
<text transform="translate(955.8,959.2) scale(1,1.045)" text-anchor="middle">50</text>
<text transform="translate(1059.0,959.2) scale(1,1.045)" text-anchor="middle">100</text>
<text transform="translate(1162.2,959.2) scale(1,1.045)" text-anchor="middle">150</text>
<text transform="translate(1265.5,959.2) scale(1,1.045)" text-anchor="middle">200</text>
<text transform="translate(1059.0,1013.2) scale(1,1.045)" text-anchor="middle">Lag</text>
<text transform="translate(789.2,850.2) rotate(-90) scale(1,1.045)" text-anchor="middle">0.0</text>
<text transform="translate(789.2,739.2) rotate(-90) scale(1,1.045)" text-anchor="middle">0.4</text>
<text transform="translate(789.2,628.3) rotate(-90) scale(1,1.045)" text-anchor="middle">0.8</text>
<text transform="translate(711.5,724.6) rotate(-90) scale(1,1.045)" text-anchor="middle">ACF</text>
<g stroke="#000" stroke-width="3.07" fill="none" stroke-linecap="round" stroke-linejoin="round">
<path d="M1539.7 824.0V843.5M1541.8 824.0V826.3M1543.8 824.0V755.2M1545.9 824.0V839.1M1548.0 824.0V834.6M1550.0 824.0V873.0M1552.1 824.0V833.5M1554.2 824.0V860.2M1556.3 824.0V813.8M1558.3 824.0V868.0M1560.4 824.0V794.9M1562.5 824.0V860.0M1564.6 824.0V822.1M1566.6 824.0V811.0M1568.7 824.0V806.5M1570.8 824.0V834.6M1572.9 824.0V809.3M1574.9 824.0V798.5M1577.0 824.0V840.8M1579.1 824.0V859.6M1581.2 824.0V820.8M1583.2 824.0V826.3M1585.3 824.0V838.0M1587.4 824.0V860.0M1589.5 824.0V816.8M1591.5 824.0V840.0M1593.6 824.0V828.0M1595.7 824.0V873.6M1597.8 824.0V855.2M1599.8 824.0V846.9M1601.9 824.0V819.3M1604.0 824.0V852.9M1606.1 824.0V841.9M1608.1 824.0V783.5M1610.2 824.0V800.5M1612.3 824.0V854.6M1614.4 824.0V818.8M1616.4 824.0V797.1M1618.5 824.0V840.2M1620.6 824.0V852.9M1622.7 824.0V810.8M1624.8 824.0V844.8M1626.8 824.0V814.4M1628.9 824.0V858.5M1631.0 824.0V816.4M1633.0 824.0V840.2M1635.1 824.0V806.4M1637.2 824.0V876.3M1639.3 824.0V814.9M1641.3 824.0V819.9M1643.4 824.0V821.2M1645.5 824.0V573.1M1647.6 824.0V832.4M1649.6 824.0V836.3M1651.7 824.0V786.3M1653.8 824.0V819.3M1655.9 824.0V834.1M1657.9 824.0V806.0M1660.0 824.0V796.4M1662.1 824.0V826.8M1664.2 824.0V865.2M1666.2 824.0V829.6M1668.3 824.0V828.0M1670.4 824.0V830.7M1672.5 824.0V814.9M1674.5 824.0V824.0M1676.6 824.0V822.6M1678.7 824.0V817.9M1680.8 824.0V830.2M1682.8 824.0V838.0M1684.9 824.0V829.1M1687.0 824.0V808.2M1689.1 824.0V816.4M1691.1 824.0V830.2M1693.2 824.0V843.0M1695.3 824.0V835.7M1697.4 824.0V842.2M1699.4 824.0V830.2M1701.5 824.0V819.0M1703.6 824.0V828.0M1705.7 824.0V858.5M1707.8 824.0V823.1M1709.8 824.0V809.0M1711.9 824.0V854.4M1714.0 824.0V842.6M1716.0 824.0V845.2M1718.1 824.0V813.8M1720.2 824.0V809.9M1722.3 824.0V771.9M1724.3 824.0V824.0M1726.4 824.0V798.5M1728.5 824.0V858.5M1730.6 824.0V844.6M1732.6 824.0V842.4M1734.7 824.0V824.0M1736.8 824.0V807.7M1738.9 824.0V795.2M1740.9 824.0V830.2M1743.0 824.0V855.2M1745.1 824.0V829.1M1747.2 824.0V823.1M1749.2 824.0V789.3M1751.3 824.0V841.9M1753.4 824.0V841.3M1755.5 824.0V812.7M1757.5 824.0V827.4M1759.6 824.0V822.1M1761.7 824.0V863.0M1763.8 824.0V826.3M1765.8 824.0V826.8M1767.9 824.0V836.6M1770.0 824.0V813.0M1772.1 824.0V800.1M1774.1 824.0V856.0M1776.2 824.0V825.9M1778.3 824.0V816.0M1780.4 824.0V834.1M1782.4 824.0V850.0M1784.5 824.0V832.4M1786.6 824.0V839.6M1788.7 824.0V840.0M1790.8 824.0V830.2M1792.8 824.0V835.2M1794.9 824.0V828.0M1797.0 824.0V841.3M1799.0 824.0V850.0M1801.1 824.0V821.2M1803.2 824.0V822.4M1805.3 824.0V822.6M1807.3 824.0V810.1M1809.4 824.0V835.7M1811.5 824.0V813.8M1813.6 824.0V820.5M1815.6 824.0V801.0M1817.7 824.0V852.6M1819.8 824.0V774.1M1821.9 824.0V838.5M1823.9 824.0V840.8M1826.0 824.0V839.1M1828.1 824.0V809.7M1830.2 824.0V839.3M1832.2 824.0V781.0M1834.3 824.0V818.8M1836.4 824.0V860.8M1838.5 824.0V815.7M1840.5 824.0V816.0M1842.6 824.0V819.3M1844.7 824.0V835.2M1846.8 824.0V830.2M1848.8 824.0V846.9M1850.9 824.0V812.7M1853.0 824.0V812.1M1855.1 824.0V821.9M1857.1 824.0V823.3M1859.2 824.0V856.0M1861.3 824.0V798.5M1863.4 824.0V833.3M1865.4 824.0V809.9M1867.5 824.0V830.7M1869.6 824.0V808.5M1871.7 824.0V816.0M1873.8 824.0V818.8M1875.8 824.0V831.9M1877.9 824.0V810.5M1880.0 824.0V843.5M1882.0 824.0V791.2M1884.1 824.0V848.5M1886.2 824.0V818.8M1888.3 824.0V814.6M1890.3 824.0V824.9M1892.4 824.0V820.8M1894.5 824.0V815.3M1896.6 824.0V806.0M1898.6 824.0V815.5M1900.7 824.0V839.3M1902.8 824.0V828.5M1904.9 824.0V827.4M1906.9 824.0V802.4M1909.0 824.0V838.0M1911.1 824.0V826.3M1913.2 824.0V823.1M1915.2 824.0V799.9M1917.3 824.0V856.9M1919.4 824.0V813.0M1921.5 824.0V810.8M1923.5 824.0V818.8M1925.6 824.0V836.3M1927.7 824.0V823.1M1929.8 824.0V804.1M1931.8 824.0V830.2M1933.9 824.0V851.1M1936.0 824.0V838.5M1938.1 824.0V830.2M1940.1 824.0V836.3M1942.2 824.0V841.3M1944.3 824.0V828.0M1946.4 824.0V836.8M1948.4 824.0V838.5M1950.5 824.0V830.2M1952.6 824.0V854.1"/>
<line x1="1523.3" y1="824.0" x2="1969.7" y2="824.0" stroke-linecap="butt"/>
<line x1="1523.0" y1="778.4" x2="1969.7" y2="778.4" stroke="#0000ff" stroke-dasharray="9.6 14.93" stroke-linecap="round"/>
<line x1="1523.0" y1="869.6" x2="1969.7" y2="869.6" stroke="#0000ff" stroke-dasharray="9.6 14.93" stroke-linecap="round"/>
<rect x="1523.3" y="560.5" width="446.4" height="328.2"/>
<line x1="1537.6" y1="888.7" x2="1952.6" y2="888.7" />
<line x1="1537.6" y1="888.7" x2="1537.6" y2="908.7" />
<line x1="1641.3" y1="888.7" x2="1641.3" y2="908.7" />
<line x1="1745.1" y1="888.7" x2="1745.1" y2="908.7" />
<line x1="1848.8" y1="888.7" x2="1848.8" y2="908.7" />
<line x1="1952.6" y1="888.7" x2="1952.6" y2="908.7" />
<line x1="1523.3" y1="870.5" x2="1523.3" y2="591.3" />
<line x1="1503.3" y1="870.5" x2="1523.3" y2="870.5" />
<line x1="1503.3" y1="824.0" x2="1523.3" y2="824.0" />
<line x1="1503.3" y1="777.5" x2="1523.3" y2="777.5" />
<line x1="1503.3" y1="730.9" x2="1523.3" y2="730.9" />
<line x1="1503.3" y1="684.4" x2="1523.3" y2="684.4" />
<line x1="1503.3" y1="637.8" x2="1523.3" y2="637.8" />
<line x1="1503.3" y1="591.3" x2="1523.3" y2="591.3" />
</g>
<text transform="translate(1537.6,959.2) scale(1,1.045)" text-anchor="middle">0</text>
<text transform="translate(1641.3,959.2) scale(1,1.045)" text-anchor="middle">50</text>
<text transform="translate(1745.1,959.2) scale(1,1.045)" text-anchor="middle">100</text>
<text transform="translate(1848.8,959.2) scale(1,1.045)" text-anchor="middle">150</text>
<text transform="translate(1952.6,959.2) scale(1,1.045)" text-anchor="middle">200</text>
<text transform="translate(1746.5,1013.2) scale(1,1.045)" text-anchor="middle">Lag</text>
<text transform="translate(1476.5,871.0) rotate(-90) scale(1,1.045)" text-anchor="middle">−0.1</text>
<text transform="translate(1476.5,778.0) rotate(-90) scale(1,1.045)" text-anchor="middle">0.1</text>
<text transform="translate(1476.5,684.9) rotate(-90) scale(1,1.045)" text-anchor="middle">0.3</text>
<text transform="translate(1476.5,591.8) rotate(-90) scale(1,1.045)" text-anchor="middle">0.5</text>
<text transform="translate(1398.8,724.6) rotate(-90) scale(1,1.045)" text-anchor="middle">Partial ACF</text>
<g stroke="#000" stroke-width="3.07" fill="none" stroke-linecap="round" stroke-linejoin="round">
<polyline points="165.04,1428.20 166.07,1428.20 167.11,1428.20 168.14,1428.20 169.18,1428.20 170.22,1428.20 171.25,1428.20 172.29,1428.20 173.32,1428.20 174.36,1393.41 175.39,1428.20 176.43,1428.20 177.47,1428.20 178.50,1419.50 179.54,1428.20 180.57,1428.20 181.61,1367.32 182.65,1428.20 183.68,1428.20 184.72,1428.20 185.75,1428.20 186.79,1428.20 187.83,1419.50 188.86,1428.20 189.90,1428.20 190.93,1428.20 191.97,1428.20 193.00,1428.20 194.04,1428.20 195.08,1428.20 196.11,1402.11 197.15,1428.20 198.18,1428.20 199.22,1428.20 200.26,1428.20 201.29,1428.20 202.33,1428.20 203.36,1428.20 204.40,1428.20 205.44,1428.20 206.47,1419.50 207.51,1428.20 208.54,1428.20 209.58,1428.20 210.61,1428.20 211.65,1428.20 212.69,1428.20 213.72,1428.20 214.76,1428.20 215.79,1428.20 216.83,1428.20 217.87,1428.20 218.90,1428.20 219.94,1428.20 220.97,1428.20 222.01,1428.20 223.04,1428.20 224.08,1428.20 225.12,1428.20 226.15,1428.20 227.19,1428.20 228.22,1419.50 229.26,1428.20 230.30,1428.20 231.33,1428.20 232.37,1428.20 233.40,1428.20 234.44,1428.20 235.48,1315.14 236.51,1428.20 237.55,1428.20 238.58,1428.20 239.62,1428.20 240.65,1428.20 241.69,1428.20 242.73,1428.20 243.76,1428.20 244.80,1428.20 245.83,1428.20 246.87,1428.20 247.91,1428.20 248.94,1428.20 249.98,1393.41 251.01,1428.20 252.05,1428.20 253.09,1419.50 254.12,1419.50 255.16,1419.50 256.19,1428.20 257.23,1428.20 258.26,1428.20 259.30,1428.20 260.34,1419.50 261.37,1419.50 262.41,1428.20 263.44,1419.50 264.48,1428.20 265.52,1419.50 266.55,1428.20 267.59,1428.20 268.62,1428.20 269.66,1428.20 270.70,1428.20 271.73,1428.20 272.77,1428.20 273.80,1428.20 274.84,1428.20 275.87,1428.20 276.91,1428.20 277.95,1428.20 278.98,1428.20 280.02,1428.20 281.05,1428.20 282.09,1410.81 283.13,1428.20 284.16,1428.20 285.20,1428.20 286.23,1428.20 287.27,1428.20 288.31,1428.20 289.34,1236.87 290.38,1428.20 291.41,1428.20 292.45,1428.20 293.48,1428.20 294.52,1428.20 295.56,1428.20 296.59,1428.20 297.63,1428.20 298.66,1428.20 299.70,1428.20 300.74,1428.20 301.77,1428.20 302.81,1428.20 303.84,1410.81 304.88,1428.20 305.91,1428.20 306.95,1419.50 307.99,1419.50 309.02,1419.50 310.06,1428.20 311.09,1428.20 312.13,1428.20 313.17,1428.20 314.20,1428.20 315.24,1428.20 316.27,1419.50 317.31,1428.20 318.35,1428.20 319.38,1428.20 320.42,1419.50 321.45,1428.20 322.49,1428.20 323.52,1428.20 324.56,1428.20 325.60,1428.20 326.63,1428.20 327.67,1428.20 328.70,1428.20 329.74,1428.20 330.78,1428.20 331.81,1428.20 332.85,1428.20 333.88,1428.20 334.92,1428.20 335.96,1410.81 336.99,1428.20 338.03,1428.20 339.06,1428.20 340.10,1428.20 341.13,1428.20 342.17,1428.20 343.21,1158.59 344.24,1428.20 345.28,1428.20 346.31,1428.20 347.35,1419.50 348.39,1428.20 349.42,1428.20 350.46,1428.20 351.49,1419.50 352.53,1428.20 353.57,1428.20 354.60,1428.20 355.64,1428.20 356.67,1428.20 357.71,1402.11 358.74,1428.20 359.78,1428.20 360.82,1428.20 361.85,1428.20 362.89,1428.20 363.92,1428.20 364.96,1428.20 366.00,1428.20 367.03,1428.20 368.07,1428.20 369.10,1428.20 370.14,1419.50 371.18,1428.20 372.21,1428.20 373.25,1428.20 374.28,1419.50 375.32,1428.20 376.35,1428.20 377.39,1428.20 378.43,1428.20 379.46,1428.20 380.50,1428.20 381.53,1419.50 382.57,1428.20 383.61,1428.20 384.64,1428.20 385.68,1428.20 386.71,1428.20 387.75,1428.20 388.78,1428.20 389.82,1402.11 390.86,1428.20 391.89,1428.20 392.93,1428.20 393.96,1428.20 395.00,1428.20 396.04,1428.20 397.07,1202.08 398.11,1428.20 399.14,1428.20 400.18,1428.20 401.22,1419.50 402.25,1428.20 403.29,1428.20 404.32,1428.20 405.36,1428.20 406.39,1428.20 407.43,1410.81 408.47,1419.50 409.50,1428.20 410.54,1428.20 411.57,1402.11 412.61,1428.20 413.65,1428.20 414.68,1428.20 415.72,1428.20 416.75,1428.20 417.79,1428.20 418.83,1428.20 419.86,1419.50 420.90,1428.20 421.93,1428.20 422.97,1428.20 424.00,1419.50 425.04,1428.20 426.08,1428.20 427.11,1428.20 428.15,1410.81 429.18,1428.20 430.22,1428.20 431.26,1428.20 432.29,1428.20 433.33,1428.20 434.36,1428.20 435.40,1419.50 436.44,1428.20 437.47,1428.20 438.51,1428.20 439.54,1428.20 440.58,1428.20 441.61,1428.20 442.65,1428.20 443.69,1358.62 444.72,1428.20 445.76,1428.20 446.79,1428.20 447.83,1428.20 448.87,1419.50 449.90,1428.20 450.94,1132.50 451.97,1428.20 453.01,1419.50 454.05,1410.81 455.08,1428.20 456.12,1428.20 457.15,1428.20 458.19,1428.20 459.22,1410.81 460.26,1428.20 461.30,1428.20 462.33,1428.20 463.37,1428.20 464.40,1428.20 465.44,1428.20 466.48,1428.20 467.51,1428.20 468.55,1428.20 469.58,1428.20 470.62,1428.20 471.65,1428.20 472.69,1428.20 473.73,1419.50 474.76,1419.50 475.80,1419.50 476.83,1428.20 477.87,1428.20 478.91,1428.20 479.94,1428.20 480.98,1428.20 482.01,1384.72 483.05,1428.20 484.09,1428.20 485.12,1428.20 486.16,1428.20 487.19,1428.20 488.23,1419.50 489.26,1428.20 490.30,1428.20 491.34,1428.20 492.37,1428.20 493.41,1428.20 494.44,1428.20 495.48,1428.20 496.52,1428.20 497.55,1393.41 498.59,1428.20 499.62,1428.20 500.66,1419.50 501.70,1428.20 502.73,1428.20 503.77,1428.20 504.80,1175.99 505.84,1428.20 506.87,1428.20 507.91,1419.50 508.95,1428.20 509.98,1428.20 511.02,1428.20 512.05,1428.20 513.09,1410.81 514.13,1428.20 515.16,1428.20 516.20,1428.20 517.23,1428.20 518.27,1428.20 519.31,1428.20 520.34,1428.20 521.38,1419.50 522.41,1428.20 523.45,1428.20 524.48,1428.20 525.52,1428.20 526.56,1428.20 527.59,1428.20 528.63,1428.20 529.66,1419.50 530.70,1419.50 531.74,1419.50 532.77,1419.50 533.81,1428.20 534.84,1428.20 535.88,1402.11 536.91,1428.20 537.95,1428.20 538.99,1428.20 540.02,1428.20 541.06,1428.20 542.09,1384.72 543.13,1428.20 544.17,1428.20 545.20,1428.20 546.24,1419.50 547.27,1428.20 548.31,1428.20 549.35,1428.20 550.38,1428.20 551.42,1410.81 552.45,1428.20 553.49,1428.20 554.52,1428.20 555.56,1419.50 556.60,1428.20 557.63,1428.20 558.67,1123.81 559.70,1428.20 560.74,1428.20 561.78,1402.11 562.81,1428.20 563.85,1428.20 564.88,1428.20 565.92,1428.20 566.96,1419.50 567.99,1428.20 569.03,1428.20 570.06,1428.20 571.10,1428.20 572.13,1428.20 573.17,1428.20 574.21,1428.20 575.24,1419.50 576.28,1428.20 577.31,1428.20 578.35,1428.20"/>
<rect x="148.7" y="1111.5" width="446.3" height="328.8"/>
<line x1="164.0" y1="1440.3" x2="578.4" y2="1440.3" />
<line x1="164.0" y1="1440.3" x2="164.0" y2="1460.3" />
<line x1="267.6" y1="1440.3" x2="267.6" y2="1460.3" />
<line x1="371.2" y1="1440.3" x2="371.2" y2="1460.3" />
<line x1="474.8" y1="1440.3" x2="474.8" y2="1460.3" />
<line x1="578.4" y1="1440.3" x2="578.4" y2="1460.3" />
<line x1="148.7" y1="1428.2" x2="148.7" y2="1123.8" />
<line x1="128.7" y1="1428.2" x2="148.7" y2="1428.2" />
<line x1="128.7" y1="1384.7" x2="148.7" y2="1384.7" />
<line x1="128.7" y1="1341.2" x2="148.7" y2="1341.2" />
<line x1="128.7" y1="1297.7" x2="148.7" y2="1297.7" />
<line x1="128.7" y1="1254.3" x2="148.7" y2="1254.3" />
<line x1="128.7" y1="1210.8" x2="148.7" y2="1210.8" />
<line x1="128.7" y1="1167.3" x2="148.7" y2="1167.3" />
<line x1="128.7" y1="1123.8" x2="148.7" y2="1123.8" />
</g>
<text transform="translate(164.0,1510.8) scale(1,1.045)" text-anchor="middle">0</text>
<text transform="translate(267.6,1510.8) scale(1,1.045)" text-anchor="middle">100</text>
<text transform="translate(371.2,1510.8) scale(1,1.045)" text-anchor="middle">200</text>
<text transform="translate(474.8,1510.8) scale(1,1.045)" text-anchor="middle">300</text>
<text transform="translate(578.4,1510.8) scale(1,1.045)" text-anchor="middle">400</text>
<text transform="translate(371.9,1564.8) scale(1,1.045)" text-anchor="middle">Time</text>
<text transform="translate(101.9,1428.7) rotate(-90) scale(1,1.045)" text-anchor="middle">0</text>
<text transform="translate(101.9,1341.7) rotate(-90) scale(1,1.045)" text-anchor="middle">10</text>
<text transform="translate(101.9,1254.8) rotate(-90) scale(1,1.045)" text-anchor="middle">20</text>
<text transform="translate(101.9,1167.8) rotate(-90) scale(1,1.045)" text-anchor="middle">30</text>
<text transform="translate(24.2,1275.9) rotate(-90) scale(1,1.045)" text-anchor="middle">W</text>
<g stroke="#000" stroke-width="3.07" fill="none" stroke-linecap="round" stroke-linejoin="round">
<path d="M852.5 1400.7V1123.3M854.6 1400.7V1409.6M856.6 1400.7V1409.6M858.7 1400.7V1398.2M860.8 1400.7V1405.1M862.8 1400.7V1409.6M864.9 1400.7V1409.6M867.0 1400.7V1379.1M869.0 1400.7V1402.1M871.1 1400.7V1409.6M873.1 1400.7V1409.0M875.2 1400.7V1410.7M877.3 1400.7V1409.6M879.3 1400.7V1411.0M881.4 1400.7V1398.5M883.5 1400.7V1404.6M885.5 1400.7V1398.5M887.6 1400.7V1409.6M889.7 1400.7V1411.2M891.7 1400.7V1409.6M893.8 1400.7V1409.0M895.9 1400.7V1408.5M897.9 1400.7V1389.1M900.0 1400.7V1407.9M902.1 1400.7V1406.2M904.1 1400.7V1405.7M906.2 1400.7V1399.9M908.3 1400.7V1406.2M910.3 1400.7V1405.1M912.4 1400.7V1409.0M914.5 1400.7V1389.6M916.5 1400.7V1407.4M918.6 1400.7V1409.6M920.6 1400.7V1407.9M922.7 1400.7V1409.9M924.8 1400.7V1407.4M926.8 1400.7V1399.6M928.9 1400.7V1402.9M931.0 1400.7V1392.7M933.0 1400.7V1409.9M935.1 1400.7V1409.0M937.2 1400.7V1408.7M939.2 1400.7V1406.8M941.3 1400.7V1406.5M943.4 1400.7V1401.5M945.4 1400.7V1382.7M947.5 1400.7V1408.7M949.6 1400.7V1409.0M951.6 1400.7V1407.4M953.7 1400.7V1402.1M955.8 1400.7V1409.0M957.8 1400.7V1409.0M959.9 1400.7V1169.2M961.9 1400.7V1410.4M964.0 1400.7V1406.2M966.1 1400.7V1399.3M968.1 1400.7V1405.7M970.2 1400.7V1409.0M972.3 1400.7V1408.5M974.3 1400.7V1379.1M976.4 1400.7V1402.1M978.5 1400.7V1409.3M980.5 1400.7V1405.1M982.6 1400.7V1410.1M984.7 1400.7V1410.1M986.7 1400.7V1410.4M988.8 1400.7V1400.1M990.9 1400.7V1404.0M992.9 1400.7V1405.1M995.0 1400.7V1409.0M997.0 1400.7V1409.9M999.1 1400.7V1409.0M1001.2 1400.7V1408.5M1003.2 1400.7V1406.2M1005.3 1400.7V1392.5M1007.4 1400.7V1405.7M1009.4 1400.7V1406.2M1011.5 1400.7V1405.7M1013.6 1400.7V1399.3M1015.6 1400.7V1406.5M1017.7 1400.7V1405.1M1019.8 1400.7V1408.5M1021.8 1400.7V1390.4M1023.9 1400.7V1406.5M1026.0 1400.7V1408.7M1028.0 1400.7V1406.8M1030.1 1400.7V1408.7M1032.2 1400.7V1406.5M1034.2 1400.7V1399.6M1036.3 1400.7V1402.9M1038.3 1400.7V1388.8M1040.4 1400.7V1409.0M1042.5 1400.7V1408.2M1044.5 1400.7V1407.4M1046.6 1400.7V1406.0M1048.7 1400.7V1405.7M1050.7 1400.7V1404.0M1052.8 1400.7V1383.8M1054.9 1400.7V1406.8M1056.9 1400.7V1407.4M1059.0 1400.7V1405.7M1061.1 1400.7V1402.1M1063.1 1400.7V1407.4M1065.2 1400.7V1406.8M1067.3 1400.7V1201.8M1069.3 1400.7V1408.5M1071.4 1400.7V1406.2M1073.5 1400.7V1399.3M1075.5 1400.7V1405.1M1077.6 1400.7V1408.5M1079.7 1400.7V1408.2M1081.7 1400.7V1380.4M1083.8 1400.7V1402.1M1085.8 1400.7V1408.2M1087.9 1400.7V1406.2M1090.0 1400.7V1408.5M1092.0 1400.7V1408.5M1094.1 1400.7V1408.5M1096.2 1400.7V1404.6M1098.2 1400.7V1404.0M1100.3 1400.7V1405.1M1102.4 1400.7V1407.9M1104.4 1400.7V1408.2M1106.5 1400.7V1407.4M1108.6 1400.7V1406.8M1110.6 1400.7V1406.2M1112.7 1400.7V1398.2M1114.8 1400.7V1405.1M1116.8 1400.7V1404.6M1118.9 1400.7V1405.7M1121.0 1400.7V1398.8M1123.0 1400.7V1405.7M1125.1 1400.7V1405.1M1127.1 1400.7V1406.8M1129.2 1400.7V1391.8M1131.3 1400.7V1405.1M1133.3 1400.7V1406.5M1135.4 1400.7V1404.6M1137.5 1400.7V1406.8M1139.5 1400.7V1404.0M1141.6 1400.7V1399.9M1143.7 1400.7V1403.5M1145.7 1400.7V1385.8M1147.8 1400.7V1407.4M1149.9 1400.7V1406.2M1151.9 1400.7V1405.7M1154.0 1400.7V1405.1M1156.1 1400.7V1404.6M1158.1 1400.7V1404.6M1160.2 1400.7V1388.0M1162.2 1400.7V1405.1M1164.3 1400.7V1406.8M1166.4 1400.7V1405.1M1168.4 1400.7V1404.0M1170.5 1400.7V1406.0M1172.6 1400.7V1405.7M1174.6 1400.7V1251.8M1176.7 1400.7V1407.4M1178.8 1400.7V1405.7M1180.8 1400.7V1399.9M1182.9 1400.7V1405.7M1185.0 1400.7V1407.4M1187.0 1400.7V1407.1M1189.1 1400.7V1389.9M1191.2 1400.7V1402.1M1193.2 1400.7V1406.8M1195.3 1400.7V1406.2M1197.4 1400.7V1406.8M1199.4 1400.7V1407.4M1201.5 1400.7V1407.1M1203.5 1400.7V1406.2M1205.6 1400.7V1405.1M1207.7 1400.7V1405.7M1209.7 1400.7V1406.8M1211.8 1400.7V1406.8M1213.9 1400.7V1406.5M1215.9 1400.7V1406.0M1218.0 1400.7V1405.1M1220.1 1400.7V1404.0M1222.1 1400.7V1402.9M1224.2 1400.7V1403.2M1226.3 1400.7V1403.5M1228.3 1400.7V1399.9M1230.4 1400.7V1404.0M1232.5 1400.7V1402.9M1234.5 1400.7V1405.7M1236.6 1400.7V1395.2M1238.7 1400.7V1403.5M1240.7 1400.7V1405.4M1242.8 1400.7V1404.0M1244.8 1400.7V1405.1M1246.9 1400.7V1404.0M1249.0 1400.7V1397.6M1251.0 1400.7V1403.5M1253.1 1400.7V1388.2M1255.2 1400.7V1405.7M1257.2 1400.7V1405.1M1259.3 1400.7V1404.9M1261.4 1400.7V1405.7M1263.4 1400.7V1405.1M1265.5 1400.7V1404.6"/>
<line x1="836.0" y1="1400.7" x2="1282.1" y2="1400.7" stroke-linecap="butt"/>
<line x1="835.7" y1="1373.5" x2="1282.1" y2="1373.5" stroke="#0000ff" stroke-dasharray="9.6 14.93" stroke-linecap="round"/>
<line x1="835.7" y1="1427.9" x2="1282.1" y2="1427.9" stroke="#0000ff" stroke-dasharray="9.6 14.93" stroke-linecap="round"/>
<rect x="836.0" y="1111.5" width="446.1" height="328.8"/>
<line x1="852.5" y1="1440.3" x2="1265.5" y2="1440.3" />
<line x1="852.5" y1="1440.3" x2="852.5" y2="1460.3" />
<line x1="955.8" y1="1440.3" x2="955.8" y2="1460.3" />
<line x1="1059.0" y1="1440.3" x2="1059.0" y2="1460.3" />
<line x1="1162.2" y1="1440.3" x2="1162.2" y2="1460.3" />
<line x1="1265.5" y1="1440.3" x2="1265.5" y2="1460.3" />
<line x1="836.0" y1="1400.7" x2="836.0" y2="1123.3" />
<line x1="816.0" y1="1400.7" x2="836.0" y2="1400.7" />
<line x1="816.0" y1="1345.2" x2="836.0" y2="1345.2" />
<line x1="816.0" y1="1289.7" x2="836.0" y2="1289.7" />
<line x1="816.0" y1="1234.3" x2="836.0" y2="1234.3" />
<line x1="816.0" y1="1178.8" x2="836.0" y2="1178.8" />
<line x1="816.0" y1="1123.3" x2="836.0" y2="1123.3" />
</g>
<text transform="translate(852.5,1510.8) scale(1,1.045)" text-anchor="middle">0</text>
<text transform="translate(955.8,1510.8) scale(1,1.045)" text-anchor="middle">50</text>
<text transform="translate(1059.0,1510.8) scale(1,1.045)" text-anchor="middle">100</text>
<text transform="translate(1162.2,1510.8) scale(1,1.045)" text-anchor="middle">150</text>
<text transform="translate(1265.5,1510.8) scale(1,1.045)" text-anchor="middle">200</text>
<text transform="translate(1059.0,1564.8) scale(1,1.045)" text-anchor="middle">Lag</text>
<text transform="translate(789.2,1401.2) rotate(-90) scale(1,1.045)" text-anchor="middle">0.0</text>
<text transform="translate(789.2,1290.2) rotate(-90) scale(1,1.045)" text-anchor="middle">0.4</text>
<text transform="translate(789.2,1179.3) rotate(-90) scale(1,1.045)" text-anchor="middle">0.8</text>
<text transform="translate(711.5,1275.9) rotate(-90) scale(1,1.045)" text-anchor="middle">ACF</text>
<g stroke="#000" stroke-width="3.07" fill="none" stroke-linecap="round" stroke-linejoin="round">
<path d="M1539.7 1354.6V1363.8M1541.8 1354.6V1363.8M1543.8 1354.6V1352.4M1545.9 1354.6V1360.5M1548.0 1354.6V1364.4M1550.0 1354.6V1364.6M1552.1 1354.6V1333.8M1554.2 1354.6V1353.5M1556.3 1354.6V1362.7M1558.3 1354.6V1363.2M1560.4 1354.6V1365.5M1562.5 1354.6V1363.8M1564.6 1354.6V1364.9M1566.6 1354.6V1355.7M1568.7 1354.6V1360.5M1570.8 1354.6V1352.7M1572.9 1354.6V1363.8M1574.9 1354.6V1365.5M1577.0 1354.6V1364.1M1579.1 1354.6V1364.4M1581.2 1354.6V1364.9M1583.2 1354.6V1345.4M1585.3 1354.6V1364.9M1587.4 1354.6V1361.6M1589.5 1354.6V1362.1M1591.5 1354.6V1356.6M1593.6 1354.6V1360.7M1595.7 1354.6V1359.3M1597.8 1354.6V1369.6M1599.8 1354.6V1347.4M1601.9 1354.6V1363.8M1604.0 1354.6V1365.5M1606.1 1354.6V1366.0M1608.1 1354.6V1367.7M1610.2 1354.6V1363.8M1612.3 1354.6V1356.6M1614.4 1354.6V1363.8M1616.4 1354.6V1352.9M1618.5 1354.6V1366.6M1620.6 1354.6V1366.9M1622.7 1354.6V1367.7M1624.8 1354.6V1366.0M1626.8 1354.6V1367.4M1628.9 1354.6V1363.2M1631.0 1354.6V1345.0M1633.0 1354.6V1368.8M1635.1 1354.6V1368.5M1637.2 1354.6V1369.4M1639.3 1354.6V1362.1M1641.3 1354.6V1370.5M1643.4 1354.6V1371.3M1645.5 1354.6V1122.8M1647.6 1354.6V1355.4M1649.6 1354.6V1351.3M1651.7 1354.6V1367.7M1653.8 1354.6V1354.6M1655.9 1354.6V1353.2M1657.9 1354.6V1350.7M1660.0 1354.6V1361.8M1662.1 1354.6V1354.6M1664.2 1354.6V1350.1M1666.2 1354.6V1347.2M1668.3 1354.6V1350.1M1670.4 1354.6V1356.8M1672.5 1354.6V1352.9M1674.5 1354.6V1350.1M1676.6 1354.6V1353.2M1678.7 1354.6V1379.4M1680.8 1354.6V1351.0M1682.8 1354.6V1350.5M1684.9 1354.6V1350.5M1687.0 1354.6V1352.4M1689.1 1354.6V1352.9M1691.1 1354.6V1367.7M1693.2 1354.6V1350.1M1695.3 1354.6V1354.6M1697.4 1354.6V1357.9M1699.4 1354.6V1355.2M1701.5 1354.6V1357.7M1703.6 1354.6V1356.6M1705.7 1354.6V1353.5M1707.8 1354.6V1357.7M1709.8 1354.6V1354.6M1711.9 1354.6V1350.7M1714.0 1354.6V1354.6M1716.0 1354.6V1355.2M1718.1 1354.6V1358.8M1720.2 1354.6V1353.8M1722.3 1354.6V1360.5M1724.3 1354.6V1351.6M1726.4 1354.6V1357.7M1728.5 1354.6V1356.0M1730.6 1354.6V1357.1M1732.6 1354.6V1357.9M1734.7 1354.6V1357.4M1736.8 1354.6V1357.7M1738.9 1354.6V1351.3M1740.9 1354.6V1353.5M1743.0 1354.6V1355.4M1745.1 1354.6V1353.5M1747.2 1354.6V1349.0M1749.2 1354.6V1353.2M1751.3 1354.6V1352.9M1753.4 1354.6V1341.6M1755.5 1354.6V1350.7M1757.5 1354.6V1352.9M1759.6 1354.6V1353.8M1761.7 1354.6V1356.3M1763.8 1354.6V1353.5M1765.8 1354.6V1356.6M1767.9 1354.6V1358.2M1770.0 1354.6V1357.7M1772.1 1354.6V1355.4M1774.1 1354.6V1356.0M1776.2 1354.6V1351.0M1778.3 1354.6V1352.4M1780.4 1354.6V1353.5M1782.4 1354.6V1360.2M1784.5 1354.6V1354.6M1786.6 1354.6V1344.1M1788.7 1354.6V1353.2M1790.8 1354.6V1353.8M1792.8 1354.6V1356.0M1794.9 1354.6V1352.7M1797.0 1354.6V1355.2M1799.0 1354.6V1366.3M1801.1 1354.6V1355.4M1803.2 1354.6V1353.2M1805.3 1354.6V1351.0M1807.3 1354.6V1352.1M1809.4 1354.6V1352.7M1811.5 1354.6V1356.3M1813.6 1354.6V1349.6M1815.6 1354.6V1355.2M1817.7 1354.6V1355.4M1819.8 1354.6V1356.0M1821.9 1354.6V1353.8M1823.9 1354.6V1353.5M1826.0 1354.6V1351.3M1828.1 1354.6V1355.7M1830.2 1354.6V1356.0M1832.2 1354.6V1355.2M1834.3 1354.6V1352.4M1836.4 1354.6V1354.6M1838.5 1354.6V1353.2M1840.5 1354.6V1350.1M1842.6 1354.6V1357.1M1844.7 1354.6V1354.6M1846.8 1354.6V1366.3M1848.8 1354.6V1352.4M1850.9 1354.6V1353.5M1853.0 1354.6V1349.6M1855.1 1354.6V1359.9M1857.1 1354.6V1353.8M1859.2 1354.6V1356.0M1861.3 1354.6V1427.6M1863.4 1354.6V1354.6M1865.4 1354.6V1362.1M1867.5 1354.6V1351.3M1869.6 1354.6V1357.1M1871.7 1354.6V1356.6M1873.8 1354.6V1356.6M1875.8 1354.6V1376.9M1877.9 1354.6V1356.0M1880.0 1354.6V1358.2M1882.0 1354.6V1360.2M1884.1 1354.6V1358.8M1886.2 1354.6V1355.4M1888.3 1354.6V1356.0M1890.3 1354.6V1356.6M1892.4 1354.6V1360.2M1894.5 1354.6V1337.6M1896.6 1354.6V1357.7M1898.6 1354.6V1356.8M1900.7 1354.6V1356.8M1902.8 1354.6V1357.7M1904.9 1354.6V1354.6M1906.9 1354.6V1344.1M1909.0 1354.6V1351.3M1911.1 1354.6V1356.3M1913.2 1354.6V1351.8M1915.2 1354.6V1363.0M1917.3 1354.6V1351.0M1919.4 1354.6V1350.1M1921.5 1354.6V1351.3M1923.5 1354.6V1361.6M1925.6 1354.6V1352.9M1927.7 1354.6V1357.1M1929.8 1354.6V1353.5M1931.8 1354.6V1353.2M1933.9 1354.6V1351.3M1936.0 1354.6V1345.1M1938.1 1354.6V1349.6M1940.1 1354.6V1373.0M1942.2 1354.6V1356.0M1944.3 1354.6V1353.5M1946.4 1354.6V1353.2M1948.4 1354.6V1363.8M1950.5 1354.6V1359.3M1952.6 1354.6V1352.1"/>
<line x1="1523.3" y1="1354.6" x2="1969.7" y2="1354.6" stroke-linecap="butt"/>
<line x1="1523.0" y1="1327.3" x2="1969.7" y2="1327.3" stroke="#0000ff" stroke-dasharray="9.6 14.93" stroke-linecap="round"/>
<line x1="1523.0" y1="1381.9" x2="1969.7" y2="1381.9" stroke="#0000ff" stroke-dasharray="9.6 14.93" stroke-linecap="round"/>
<rect x="1523.3" y="1111.5" width="446.4" height="328.8"/>
<line x1="1537.6" y1="1440.3" x2="1952.6" y2="1440.3" />
<line x1="1537.6" y1="1440.3" x2="1537.6" y2="1460.3" />
<line x1="1641.3" y1="1440.3" x2="1641.3" y2="1460.3" />
<line x1="1745.1" y1="1440.3" x2="1745.1" y2="1460.3" />
<line x1="1848.8" y1="1440.3" x2="1848.8" y2="1460.3" />
<line x1="1952.6" y1="1440.3" x2="1952.6" y2="1460.3" />
<line x1="1523.3" y1="1410.3" x2="1523.3" y2="1131.7" />
<line x1="1503.3" y1="1410.3" x2="1523.3" y2="1410.3" />
<line x1="1503.3" y1="1354.6" x2="1523.3" y2="1354.6" />
<line x1="1503.3" y1="1298.9" x2="1523.3" y2="1298.9" />
<line x1="1503.3" y1="1243.2" x2="1523.3" y2="1243.2" />
<line x1="1503.3" y1="1187.4" x2="1523.3" y2="1187.4" />
<line x1="1503.3" y1="1131.7" x2="1523.3" y2="1131.7" />
</g>
<text transform="translate(1537.6,1510.8) scale(1,1.045)" text-anchor="middle">0</text>
<text transform="translate(1641.3,1510.8) scale(1,1.045)" text-anchor="middle">50</text>
<text transform="translate(1745.1,1510.8) scale(1,1.045)" text-anchor="middle">100</text>
<text transform="translate(1848.8,1510.8) scale(1,1.045)" text-anchor="middle">150</text>
<text transform="translate(1952.6,1510.8) scale(1,1.045)" text-anchor="middle">200</text>
<text transform="translate(1746.5,1564.8) scale(1,1.045)" text-anchor="middle">Lag</text>
<text transform="translate(1476.5,1410.8) rotate(-90) scale(1,1.045)" text-anchor="middle">−0.2</text>
<text transform="translate(1476.5,1299.4) rotate(-90) scale(1,1.045)" text-anchor="middle">0.2</text>
<text transform="translate(1476.5,1187.9) rotate(-90) scale(1,1.045)" text-anchor="middle">0.6</text>
<text transform="translate(1398.8,1275.9) rotate(-90) scale(1,1.045)" text-anchor="middle">Partial ACF</text>
</svg></body></html>
